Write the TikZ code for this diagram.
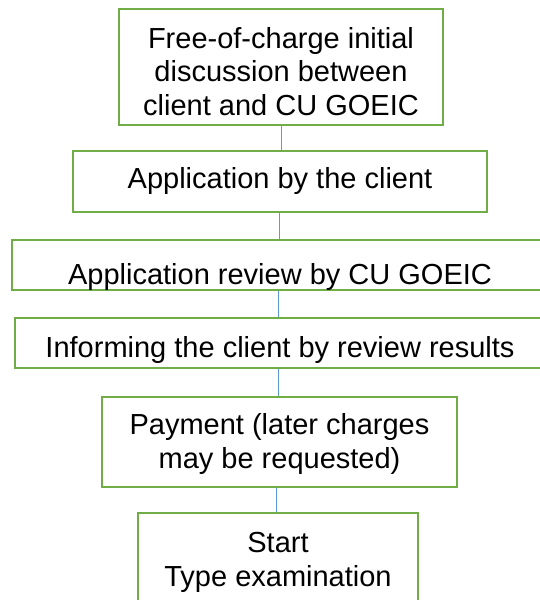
\documentclass[tikz,border=0pt]{standalone}
\usepackage{fontspec}
\setmainfont{Liberation Sans}
\definecolor{boxgreen}{HTML}{70AD47}
\definecolor{linkblue}{HTML}{5B9BD5}
\tikzset{
  stepbox/.style={draw=boxgreen, line width=2.6pt, fill=white, inner sep=0pt,
    align=center, text depth=0pt, font=\fontsize{29}{33.5}\selectfont},
  link/.style={draw=linkblue, line width=0.9pt}
}
\begin{document}
\begin{tikzpicture}[x=1pt,y=-1pt]
\useasboundingbox (0,0) rectangle (540,600);
\clip (0,0) rectangle (540,600);
\node[stepbox, minimum width=324pt, minimum height=116pt, text height=96pt] (b1) at (281,67)
  {Free-of-charge initial\\discussion between\\client and CU GOEIC};
\node[stepbox, minimum width=414pt, minimum height=61pt, text height=13pt] (b2) at (280,181.5)
  {Application by the client};
\node[stepbox, minimum width=536pt, minimum height=50pt, text height=39pt] (b3) at (280,265)
  {Application review by CU GOEIC};
\node[stepbox, minimum width=530pt, minimum height=50pt, text height=28pt] (b4) at (280,343)
  {Informing the client by review results};
\node[stepbox, minimum width=355pt, minimum height=90pt, text height=52pt] (b5) at (279.5,442)
  {Payment (later charges\\may be requested)};
\node[stepbox, minimum width=280pt, minimum height=102pt, text height=44pt] (b6) at (278,564)
  {Start\\Type examination};
\draw[link] (b1.south) -- (b1.south |- b2.north);
\draw[link] ([xshift=-1pt]b2.south) -- ([xshift=-1pt]b2.south |- b3.north);
\draw[link] ([xshift=-2pt]b3.south) -- ([xshift=-2pt]b3.south |- b4.north);
\draw[link] ([xshift=-2pt]b4.south) -- ([xshift=-2pt]b4.south |- b5.north);
\draw[link] ([xshift=-3pt]b5.south) -- ([xshift=-3pt]b5.south |- b6.north);
\end{tikzpicture}
\end{document}
